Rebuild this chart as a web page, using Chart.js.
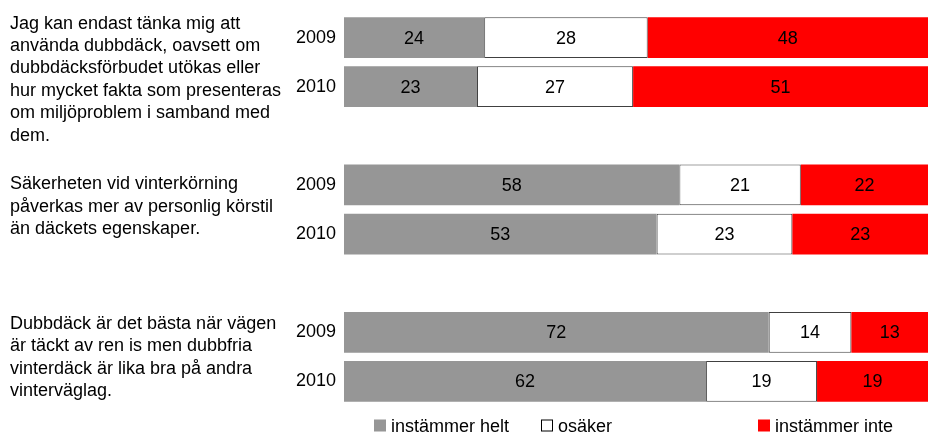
<!DOCTYPE html>
<html>
<head>
<meta charset="utf-8">
<script src="https://cdn.jsdelivr.net/npm/chart.js@4/dist/chart.umd.min.js"></script>
<style>
  html, body { margin: 0; padding: 0; background: #ffffff; }
  #wrap { width: 928px; height: 432px; position: relative; }
</style>
</head>
<body>
<div id="wrap"><canvas id="chart" width="928" height="432"></canvas></div>
<script>
// Statements (wrapped as displayed), one per group of two survey years
const statements = [
  ['Jag kan endast tänka mig att', 'använda dubbdäck, oavsett om', 'dubbdäcksförbudet utökas eller',
   'hur mycket fakta som presenteras', 'om miljöproblem i samband med', 'dem.'],
  ['Säkerheten vid vinterkörning', 'påverkas mer av personlig körstil', 'än däckets egenskaper.'],
  ['Dubbdäck är det bästa när vägen', 'är täckt av ren is men dubbfria', 'vinterdäck är lika bra på andra',
   'vinterväglag.']
];
const years = ['2009', '2010'];

// Percent answering, rows ordered statement 1 (2009, 2010), statement 2 (2009, 2010), statement 3 (2009, 2010)
const instammerHelt = [24, 23, 58, 53, 72, 62];
const osaker        = [28, 27, 21, 23, 14, 19];
const instammerInte = [48, 51, 22, 23, 13, 19];

const seriesNames = ['instämmer helt', 'osäker', 'instämmer inte'];

// ---- styling ----
const FONT = "'Liberation Sans', Arial, Helvetica, sans-serif";
const TEXT_COLOR = '#000000';
const colors = ['#969696', '#ffffff', '#ff0000'];
const borders = ['#969696', '#404040', '#ff0000'];
const borderWidths = [0, 1, 0];
const statementOffsets = [-9, 4.5, -3.5];   // baseline of first line relative to the 2009 row centre
const statementLineHeight = 22.4;
const legendX = [374, 541, 758];

// Build category rows with an empty spacer row between statements
const rowLabels = [];
const rowIndex = [];   // data row for each category slot, or null for spacers
statements.forEach((s, g) => {
  if (g > 0) { rowLabels.push(''); rowIndex.push(null); }
  years.forEach((y, k) => { rowLabels.push(y); rowIndex.push(g * years.length + k); });
});

const rawSeries = [instammerHelt, osaker, instammerInte];
const rowTotals = instammerHelt.map((v, i) => v + osaker[i] + instammerInte[i]);

const datasets = rawSeries.map((vals, s) => ({
  label: seriesNames[s],
  data: rowIndex.map(r => r === null ? null : vals[r] / rowTotals[r] * 100),
  rawValues: rowIndex.map(r => r === null ? null : vals[r]),
  backgroundColor: colors[s],
  borderColor: borders[s],
  borderWidth: borderWidths[s],
  borderSkipped: false,
  barPercentage: 0.83,
  categoryPercentage: 1.0
}));

// Value printed in the middle of every segment
const valueLabels = {
  id: 'valueLabels',
  afterDatasetsDraw(chart) {
    const ctx = chart.ctx;
    ctx.save();
    ctx.font = '18px ' + FONT;
    ctx.fillStyle = TEXT_COLOR;
    ctx.textAlign = 'center';
    ctx.textBaseline = 'middle';
    chart.data.datasets.forEach((ds, di) => {
      chart.getDatasetMeta(di).data.forEach((el, i) => {
        const v = ds.rawValues[i];
        if (v === null || v === undefined) return;
        ctx.fillText(String(v), (el.x + el.base) / 2, el.y + 1);
      });
    });
    ctx.restore();
  }
};

// Statement text to the left of each pair of bars
const statementText = {
  id: 'statementText',
  afterDraw(chart) {
    const ctx = chart.ctx;
    const yScale = chart.scales.y;
    ctx.save();
    ctx.font = '18px ' + FONT;
    ctx.fillStyle = TEXT_COLOR;
    ctx.textAlign = 'left';
    ctx.textBaseline = 'alphabetic';
    let slot = 0;
    statements.forEach((lines, g) => {
      const y0 = yScale.getPixelForValue(slot) + statementOffsets[g];
      lines.forEach((line, k) => ctx.fillText(line, 10, y0 + k * statementLineHeight));
      slot += years.length + 1;
    });
    ctx.restore();
  }
};

// Legend along the bottom edge
const bottomLegend = {
  id: 'bottomLegend',
  afterDraw(chart) {
    const ctx = chart.ctx;
    ctx.save();
    ctx.font = '18px ' + FONT;
    ctx.textAlign = 'left';
    ctx.textBaseline = 'alphabetic';
    const boxTop = 419.5, box = 12;
    chart.data.datasets.forEach((ds, i) => {
      const x = legendX[i];
      ctx.fillStyle = ds.backgroundColor;
      ctx.fillRect(x, boxTop, box, box);
      if (ds.borderWidth > 0) {
        ctx.strokeStyle = '#000000';
        ctx.lineWidth = 1;
        ctx.strokeRect(x + 0.5, boxTop + 0.5, box - 1, box - 1);
      }
      ctx.fillStyle = TEXT_COLOR;
      ctx.fillText(ds.label, x + box + 5, 431.5);
    });
    ctx.restore();
  }
};

new Chart(document.getElementById('chart'), {
  type: 'bar',
  data: { labels: rowLabels, datasets },
  options: {
    indexAxis: 'y',
    responsive: false,
    animation: false,
    devicePixelRatio: 1,
    layout: { padding: { top: 13, bottom: 26, left: 0, right: 0 } },
    scales: {
      x: { stacked: true, min: 0, max: 100, display: false },
      y: {
        stacked: true,
        grid: { display: false, drawTicks: false },
        border: { display: false },
        ticks: {
          autoSkip: false,
          padding: 8,
          color: TEXT_COLOR,
          font: { family: FONT, size: 18 }
        },
        afterFit(scale) {
          scale.width = 344;
          scale.paddingTop = 0;
          scale.paddingBottom = 0;
        }
      }
    },
    plugins: {
      legend: { display: false },
      tooltip: { enabled: false }
    }
  },
  plugins: [valueLabels, statementText, bottomLegend]
});
</script>
</body>
</html>
